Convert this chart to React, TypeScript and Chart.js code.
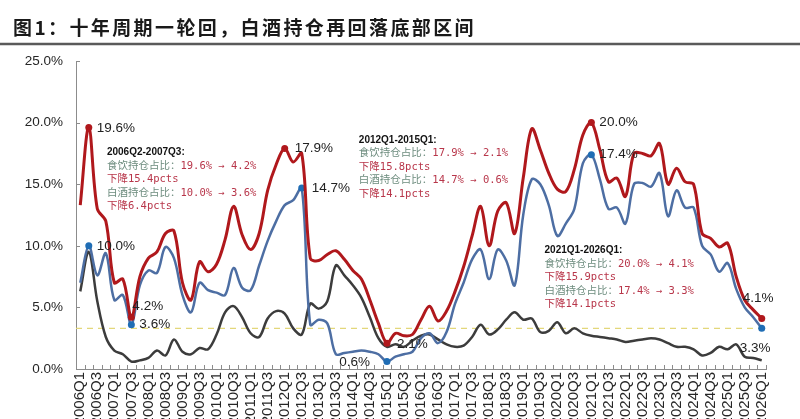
import React, { useEffect, useRef } from 'react';
import { Chart, registerables } from 'chart.js';

Chart.register(...registerables);

const QUARTERS = [
  '2006Q1', '2006Q2', '2006Q3', '2006Q4', '2007Q1', '2007Q2', '2007Q3', '2007Q4',
  '2008Q1', '2008Q2', '2008Q3', '2008Q4', '2009Q1', '2009Q2', '2009Q3', '2009Q4',
  '2010Q1', '2010Q2', '2010Q3', '2010Q4', '2011Q1', '2011Q2', '2011Q3', '2011Q4',
  '2012Q1', '2012Q2', '2012Q3', '2012Q4', '2013Q1', '2013Q2', '2013Q3', '2013Q4',
  '2014Q1', '2014Q2', '2014Q3', '2014Q4', '2015Q1', '2015Q2', '2015Q3', '2015Q4',
  '2016Q1', '2016Q2', '2016Q3', '2016Q4', '2017Q1', '2017Q2', '2017Q3', '2017Q4',
  '2018Q1', '2018Q2', '2018Q3', '2018Q4', '2019Q1', '2019Q2', '2019Q3', '2019Q4',
  '2020Q1', '2020Q2', '2020Q3', '2020Q4', '2021Q1', '2021Q2', '2021Q3', '2021Q4',
  '2022Q1', '2022Q2', '2022Q3', '2022Q4', '2023Q1', '2023Q2', '2023Q3', '2023Q4',
  '2024Q1', '2024Q2', '2024Q3', '2024Q4', '2025Q1', '2025Q2', '2025Q3', '2025Q4',
  '2026Q1',
];

// 食饮持仓占比 (%)
const FOOD_BEV = [
  13.3, 19.6, 13.0, 12.0, 7.0, 7.3, 4.2, 7.5,
  9.0, 9.5, 11.0, 11.2, 7.0, 5.6, 8.7, 7.9,
  8.5, 10.5, 13.2, 10.9, 9.7, 11.0, 14.5, 16.6,
  17.9, 16.8, 17.5, 9.0, 8.8, 9.3, 9.6, 8.9,
  8.0, 7.3, 5.6, 3.7, 2.1, 2.9, 2.7, 2.8,
  4.0, 5.1, 3.9, 4.7, 6.3, 8.3, 10.8, 13.2,
  10.0, 12.8, 13.5, 11.0, 15.5, 19.5, 17.8, 15.9,
  14.6, 14.4, 16.2, 19.0, 20.0, 17.8, 15.2, 15.5,
  14.0, 17.5, 17.5, 17.3, 18.3, 15.0, 16.3, 15.2,
  15.0, 11.0, 10.6, 9.9, 10.2, 7.5, 5.6, 4.8,
  4.1,
];

// 白酒持仓占比 (%)
const BAIJIU = [
  7.0, 10.0, 7.6, 9.4, 5.6, 6.0, 3.6, 6.8,
  8.0, 7.8, 9.9, 9.0, 6.0, 4.6, 7.0, 6.4,
  6.2, 6.0, 8.2, 6.6, 6.4, 8.4, 10.4, 12.0,
  13.3, 13.7, 14.7, 3.6, 4.0, 3.7, 1.2, 1.3,
  1.4, 1.5, 1.4, 1.2, 0.6, 1.0, 1.2, 1.4,
  2.5, 2.9, 2.1, 3.0, 5.3, 7.0, 8.9, 9.7,
  7.3, 9.7, 8.8, 6.8, 12.5, 15.4, 15.0, 13.3,
  10.8, 11.8, 13.0, 16.7, 17.4, 15.4, 13.0, 13.1,
  11.8, 15.0, 15.1, 14.8, 15.9, 12.4, 14.5, 13.1,
  13.1, 10.0, 9.3, 7.9, 8.6, 6.5, 5.0, 4.2,
  3.3,
];

// 其他食饮持仓占比 (%)
const OTHER = [
  6.3, 9.5, 5.5, 2.6, 1.5, 1.2, 0.6, 0.7,
  0.9, 1.5, 1.1, 2.4, 1.4, 1.2, 1.7, 1.6,
  2.8, 4.6, 5.1, 4.2, 2.9, 2.6, 4.1, 4.7,
  4.5, 3.3, 2.8, 5.3, 4.9, 5.5, 8.4, 7.6,
  6.8, 5.8, 4.2, 2.5, 1.8, 2.0, 1.8, 2.3,
  2.7, 2.8, 2.4, 2.0, 1.8, 1.9, 2.6, 3.6,
  2.8, 3.2, 4.0, 4.6, 4.0, 4.1, 3.0, 3.1,
  3.8, 2.9, 3.3, 2.9, 2.7, 2.6, 2.5, 2.4,
  2.2, 2.3, 2.4, 2.5, 2.4, 2.1, 1.8, 1.8,
  1.6, 1.1, 1.3, 1.8, 1.6, 2.0, 1.0, 0.9,
  0.7,
];

const REF_LEVEL = 3.3;
const Y_MAX = 25;
const Y_STEP = 5;

const TITLE = '图1：十年周期一轮回，白酒持仓再回落底部区间';

// indices of the marked / labelled points
const RED_MARKS = [1, 6, 24, 36, 60, 80];
const BLUE_MARKS = [1, 6, 26, 36, 60, 80];

// periods described in the text boxes: [redFrom, redTo, blueFrom, blueTo]
const PERIODS = [
  [1, 6, 1, 6],
  [24, 36, 26, 36],
  [60, 80, 60, 80],
];

// text box anchors (category index, percent value)
const BOX_ANCHORS = [
  [3.13, 17.56],
  [32.7, 18.6],
  [54.5, 9.6],
];

// label offsets [dx, dy, align] relative to the point
const RED_LABEL_POS: Record<number, [number, number, CanvasTextAlign]> = {
  1: [8, 1, 'left'],
  6: [1, -11, 'left'],
  24: [10, 0, 'left'],
  36: [10, 1, 'left'],
  60: [8, 0, 'left'],
  80: [-19, -20, 'left'],
};
const BLUE_LABEL_POS: Record<number, [number, number, CanvasTextAlign]> = {
  1: [8, 0, 'left'],
  6: [8, 0, 'left'],
  26: [10, 0, 'left'],
  36: [-17, 1, 'right'],
  60: [8, 0, 'left'],
  80: [-22, 20, 'left'],
};

const RED = '#b0181c';
const BLUE_LINE = '#4d6ea3';
const BLUE_MARK = '#1f6db5';
const GREY = '#3c3c3c';
const SANS = "'Liberation Sans', Arial, sans-serif";
const CJK = "'Noto Sans CJK SC', sans-serif";
const MONO = "'DejaVu Sans Mono', 'Noto Sans CJK SC', monospace";
const LABEL_GREEN = '#6d8c7e';
const VALUE_RED = '#b8364a';

const fmt = (v: number) => v.toFixed(1) + '%';

export default function App() {
  const ref = useRef<HTMLCanvasElement>(null);

  useEffect(() => {
    const canvas = ref.current;
    if (!canvas) return;

    const decor = {
      id: 'decor',
      beforeDraw(chart: any) {
        const ctx = chart.ctx as CanvasRenderingContext2D;
        ctx.save();
        ctx.fillStyle = '#ffffff';
        ctx.fillRect(0, 0, chart.width, chart.height);
        // title
        ctx.fillStyle = '#1a1a1a';
        ctx.font = `bold 19px ${CJK}`;
        (ctx as any).letterSpacing = '2.4px';
        ctx.textBaseline = 'middle';
        ctx.textAlign = 'left';
        ctx.fillText(TITLE, 13, 28);
        (ctx as any).letterSpacing = '0px';
        // rule
        ctx.strokeStyle = '#5a5a5a';
        ctx.lineWidth = 2.5;
        ctx.beginPath();
        ctx.moveTo(0, 44);
        ctx.lineTo(chart.width, 44);
        ctx.stroke();
        ctx.restore();
      },
      beforeDatasetsDraw(chart: any) {
        const ctx = chart.ctx as CanvasRenderingContext2D;
        const { left, right, bottom } = chart.chartArea;
        const xs = chart.scales.x;
        const ys = chart.scales.y;
        ctx.save();
        // reference line
        const yRef = ys.getPixelForValue(REF_LEVEL);
        ctx.strokeStyle = '#e3d77a';
        ctx.lineWidth = 1.2;
        ctx.setLineDash([6, 5]);
        ctx.beginPath();
        ctx.moveTo(left, yRef);
        ctx.lineTo(right, yRef);
        ctx.stroke();
        ctx.setLineDash([]);
        // tick marks (inside)
        ctx.strokeStyle = '#8c8c8c';
        ctx.lineWidth = 1;
        ctx.beginPath();
        for (let i = 0; i <= QUARTERS.length; i++) {
          const x = Math.round(xs.getPixelForValue(i - 0.5)) + 0.5;
          ctx.moveTo(x, bottom);
          ctx.lineTo(x, bottom - 4);
        }
        for (let v = 0; v <= Y_MAX; v += Y_STEP) {
          const y = Math.round(ys.getPixelForValue(v)) + 0.5;
          ctx.moveTo(left, y);
          ctx.lineTo(left + 4, y);
        }
        ctx.stroke();
        ctx.restore();
      },
      afterDatasetsDraw(chart: any) {
        const ctx = chart.ctx as CanvasRenderingContext2D;
        const xs = chart.scales.x;
        const ys = chart.scales.y;
        ctx.save();
        // point labels
        ctx.font = `13.5px ${SANS}`;
        ctx.fillStyle = '#222222';
        ctx.textBaseline = 'middle';
        const drawLabels = (data: number[], marks: number[], pos: Record<number, [number, number, CanvasTextAlign]>) => {
          marks.forEach((i) => {
            const [dx, dy, align] = pos[i];
            ctx.textAlign = align;
            ctx.fillText(fmt(data[i]), xs.getPixelForValue(i) + dx, ys.getPixelForValue(data[i]) + dy);
          });
        };
        drawLabels(FOOD_BEV, RED_MARKS, RED_LABEL_POS);
        drawLabels(BAIJIU, BLUE_MARKS, BLUE_LABEL_POS);

        // text boxes
        ctx.textAlign = 'left';
        PERIODS.forEach(([rf, rt, bf, bt], k) => {
          const [ax, ay] = BOX_ANCHORS[k];
          const x0 = xs.getPixelForValue(ax);
          let y = ys.getPixelForValue(ay);
          const lh = 13.5;
          ctx.font = `bold 10px ${SANS}`;
          ctx.fillStyle = '#111111';
          ctx.fillText(`${QUARTERS[Math.min(rf, bf)]}-${QUARTERS[Math.max(rt, bt)]}:`, x0, y);
          y += lh;
          const pair = (label: string, a: number, b: number) => {
            ctx.font = `10.5px ${MONO}`;
            ctx.fillStyle = LABEL_GREEN;
            ctx.fillText(label, x0, y);
            const w = ctx.measureText(label).width;
            ctx.fillStyle = VALUE_RED;
            ctx.fillText(`${fmt(a)} → ${fmt(b)}`, x0 + w, y);
            y += lh;
            ctx.fillText(`下降${(a - b).toFixed(1)}pcts`, x0, y);
            y += lh;
          };
          pair('食饮持仓占比：', FOOD_BEV[rf], FOOD_BEV[rt]);
          pair('白酒持仓占比：', BAIJIU[bf], BAIJIU[bt]);
        });
        ctx.restore();
      },
    };

    const radii = (marks: number[]) => QUARTERS.map((_, i) => (marks.includes(i) ? 3.5 : 0));

    const chart = new Chart(canvas, {
      type: 'line',
      data: {
        labels: QUARTERS,
        datasets: [
          {
            label: '食饮持仓占比',
            data: FOOD_BEV,
            borderColor: RED,
            backgroundColor: RED,
            borderWidth: 3,
            pointRadius: radii(RED_MARKS),
            pointBackgroundColor: RED,
            pointBorderWidth: 0,
            tension: 0.35,
          },
          {
            label: '白酒持仓占比',
            data: BAIJIU,
            borderColor: BLUE_LINE,
            backgroundColor: BLUE_MARK,
            borderWidth: 2.5,
            pointRadius: radii(BLUE_MARKS),
            pointBackgroundColor: BLUE_MARK,
            pointBorderWidth: 0,
            tension: 0.35,
          },
          {
            label: '其他食饮持仓占比',
            data: OTHER,
            borderColor: GREY,
            backgroundColor: GREY,
            borderWidth: 2.5,
            pointRadius: 0,
            tension: 0.35,
          },
        ],
      },
      options: {
        responsive: false,
        animation: false,
        devicePixelRatio: 1,
        layout: { padding: { top: 61, right: 34, left: 0, bottom: 0 } },
        plugins: {
          legend: { display: false },
          tooltip: { enabled: false },
          title: { display: false },
        },
        scales: {
          x: {
            offset: true,
            grid: { display: false, drawTicks: false },
            border: { display: true, color: '#8c8c8c', width: 1 },
            ticks: {
              autoSkip: false,
              minRotation: 90,
              maxRotation: 90,
              padding: 3,
              color: '#262626',
              font: { family: SANS, size: 15 },
              callback: (_v: any, i: number) => (i % 2 === 0 ? QUARTERS[i] : ''),
            },
            afterFit: (s: any) => {
              s.height = 50;
            },
          },
          y: {
            min: 0,
            max: Y_MAX,
            grid: { display: false, drawTicks: false },
            border: { display: true, color: '#8c8c8c', width: 1 },
            ticks: {
              stepSize: Y_STEP,
              padding: 13,
              color: '#262626',
              font: { family: SANS, size: 13.5 },
              callback: (v: any) => Number(v).toFixed(1) + '%',
            },
            afterFit: (s: any) => {
              s.width = 76;
            },
          },
        },
      },
      plugins: [decor],
    });

    return () => chart.destroy();
  }, []);

  return (
    <div style={{ position: 'absolute', left: 0, top: 0, width: 800, height: 419, background: '#fff', overflow: 'hidden' }}>
      <canvas ref={ref} width={800} height={419} style={{ display: 'block' }} />
    </div>
  );
}
